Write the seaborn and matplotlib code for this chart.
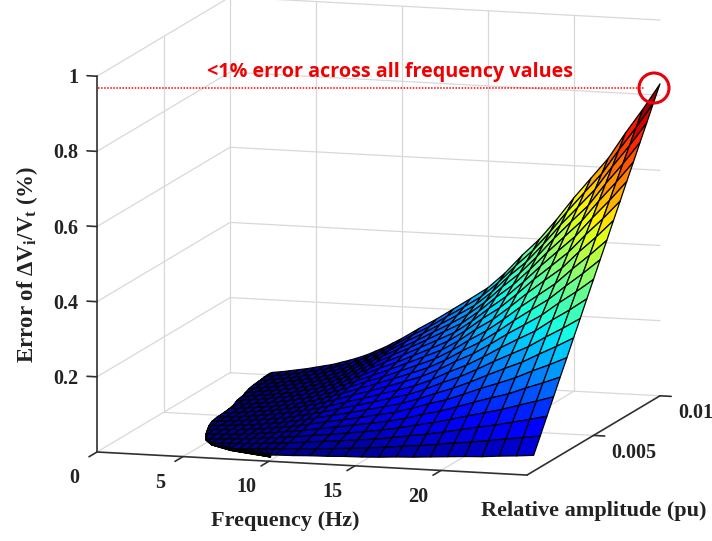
import numpy as np
import matplotlib
matplotlib.use("Agg")
import matplotlib.pyplot as plt
import seaborn as sns
from matplotlib.patches import Circle
from mpl_toolkits.mplot3d import proj3d

# values
freq = [2, 2.5, 3, 3.5, 4, 4.5, 5, 5.5, 6, 6.5, 7, 7.5, 8, 8.5, 9, 9.5, 10,
        11, 12, 13, 14, 15, 16, 17, 18, 19, 20, 21, 22, 23, 24, 25]
amp = [0.0005, 0.001, 0.0015, 0.002, 0.0025, 0.003, 0.0035, 0.004, 0.0045, 0.005,
       0.0055, 0.006, 0.0065, 0.007, 0.0075, 0.008, 0.0085, 0.009, 0.0095, 0.01]
# lowest frequency the surface reaches on each amplitude row
freq_edge = [9.7, 7.0, 5.5, 4.8, 4.4, 4.1, 3.8, 3.6, 3.5, 3.45,
             3.4, 3.3, 3.1, 3.0, 2.8, 2.65, 2.55, 2.45, 2.35, 2.3]
error = [
    [.000, .000, .001, .001, .001, .001, .001, .002, .002, .002, .003, .003, .003, .004, .005, .005, .006, .007, .009, .010, .012, .013, .015, .018, .020, .023, .026, .029, .031, .035, .038, .042],
    [.000, .001, .001, .001, .002, .002, .003, .003, .004, .004, .005, .006, .007, .008, .009, .010, .012, .015, .017, .020, .023, .026, .031, .036, .040, .046, .052, .057, .063, .070, .076, .083],
    [.001, .001, .002, .002, .003, .003, .004, .005, .006, .007, .008, .009, .010, .012, .014, .015, .017, .022, .026, .030, .035, .039, .046, .053, .060, .068, .077, .086, .094, .104, .114, .125],
    [.001, .001, .002, .003, .004, .004, .005, .006, .007, .009, .010, .012, .014, .016, .018, .021, .023, .029, .034, .040, .046, .053, .061, .071, .080, .091, .103, .114, .125, .139, .152, .166],
    [.001, .002, .003, .004, .005, .006, .007, .008, .009, .011, .013, .015, .017, .020, .023, .026, .029, .036, .043, .051, .058, .066, .076, .089, .100, .114, .129, .143, .156, .174, .190, .208],
    [.001, .002, .003, .004, .005, .007, .008, .010, .011, .013, .015, .018, .020, .024, .027, .031, .035, .044, .052, .061, .070, .079, .092, .107, .120, .137, .155, .171, .188, .209, .228, .249],
    [.001, .002, .004, .005, .006, .008, .009, .011, .013, .015, .018, .021, .024, .028, .032, .036, .041, .051, .060, .071, .081, .092, .107, .124, .140, .159, .180, .200, .219, .243, .266, .291],
    [.002, .003, .004, .006, .007, .009, .011, .013, .015, .018, .020, .024, .027, .032, .036, .041, .046, .058, .069, .081, .093, .105, .122, .142, .160, .182, .206, .228, .250, .278, .304, .332],
    [.002, .003, .005, .006, .008, .010, .012, .014, .017, .020, .023, .027, .031, .036, .041, .046, .052, .065, .077, .091, .104, .118, .137, .160, .180, .205, .232, .257, .281, .313, .342, .374],
    [.002, .004, .005, .007, .009, .011, .014, .016, .019, .022, .026, .030, .034, .040, .045, .052, .058, .073, .086, .101, .116, .132, .153, .178, .200, .228, .258, .285, .313, .348, .380, .415],
    [.002, .004, .006, .008, .010, .012, .015, .018, .020, .024, .028, .032, .037, .043, .050, .057, .064, .080, .095, .111, .128, .145, .168, .195, .220, .250, .283, .314, .344, .382, .418, .457],
    [.002, .004, .006, .008, .011, .013, .016, .019, .022, .026, .031, .035, .041, .047, .054, .062, .070, .087, .103, .121, .139, .158, .183, .213, .240, .273, .309, .342, .375, .417, .456, .498],
    [.003, .005, .007, .009, .012, .014, .018, .021, .024, .029, .033, .038, .044, .051, .059, .067, .075, .094, .112, .131, .151, .171, .198, .231, .260, .296, .335, .371, .406, .452, .494, .540],
    [.003, .005, .007, .010, .013, .015, .019, .022, .026, .031, .036, .041, .048, .055, .063, .072, .081, .102, .120, .141, .162, .184, .214, .249, .280, .319, .361, .399, .438, .487, .532, .581],
    [.003, .005, .008, .011, .014, .017, .020, .024, .028, .033, .038, .044, .051, .059, .068, .077, .087, .109, .129, .152, .174, .197, .229, .266, .300, .341, .386, .428, .469, .521, .570, .623],
    [.003, .006, .008, .011, .014, .018, .022, .026, .030, .035, .041, .047, .054, .063, .072, .082, .093, .116, .138, .162, .186, .210, .244, .284, .320, .364, .412, .456, .500, .556, .608, .664],
    [.003, .006, .009, .012, .015, .019, .023, .027, .031, .037, .043, .050, .058, .067, .077, .088, .099, .123, .146, .172, .197, .224, .259, .302, .340, .387, .438, .485, .531, .591, .646, .706],
    [.004, .006, .009, .013, .016, .020, .024, .029, .033, .040, .046, .053, .061, .071, .081, .093, .104, .131, .155, .182, .209, .237, .275, .320, .360, .410, .464, .513, .563, .626, .684, .747],
    [.004, .007, .010, .013, .017, .021, .026, .030, .035, .042, .048, .056, .065, .075, .086, .098, .110, .138, .163, .192, .220, .250, .290, .337, .380, .432, .489, .542, .594, .660, .722, .789],
    [.004, .007, .010, .014, .018, .022, .027, .032, .037, .044, .051, .059, .068, .079, .090, .103, .116, .145, .172, .202, .232, .263, .305, .355, .400, .455, .515, .570, .625, .695, .760, .830],
]

freq_ticks = [0, 5, 10, 15, 20]
amp_ticks = [0.005, 0.01]
amp_tick_labels = ["0.005", "0.01"]
err_ticks = [0.2, 0.4, 0.6, 0.8, 1]
err_tick_labels = ["0.2", "0.4", "0.6", "0.8", "1"]

sns.set_theme(style="white")
plt.rcParams["font.family"] = ["Liberation Serif", "DejaVu Serif"]
plt.rcParams["font.weight"] = "bold"
plt.rcParams["mathtext.fontset"] = "custom"
plt.rcParams["mathtext.bf"] = "Liberation Serif:bold"
plt.rcParams["mathtext.rm"] = "Liberation Serif:bold"

fig = plt.figure(figsize=(7.12, 5.41), dpi=100)
ax = fig.add_axes([100 / 712, 0, 500 / 712, 500 / 541], projection="3d")
ax.set_proj_type("ortho")
ax.view_init(elev=10.3, azim=-73.3)
ax.set_box_aspect((449, 463, 382))
ax.set_xlim(0, 25)
ax.set_ylim(0, 0.01)
ax.set_zlim(0, 1)
ax.set_axis_off()
ax.patch.set_alpha(0)
ax.computed_zorder = False


def to_pixels(f, a, z):
    x, y, _ = proj3d.proj_transform(f, a, z, ax.get_proj())
    return ax.transData.transform((x, y))


# fit the box to the picture: front corner at (97, 452), box 563 px wide
start = to_pixels(0, 0, 0)
scale = 563 / (to_pixels(25, 0.01, 0)[0] - start[0])
side = 500 * scale
left = 97 - (start[0] - 100) * scale
bottom = (541 - 452) - start[1] * scale
ax.set_position([left / 712, bottom / 541, side / 712, side / 541])

# walls and floor
grid = dict(color="#d8d8d8", lw=0.9, zorder=1)
for z in [0] + err_ticks:
    ax.plot([0, 0, 25], [0, 0.01, 0.01], [z, z, z], **grid)
for a in amp_ticks:
    ax.plot([0, 0], [a, a], [0, 1], **grid)
ax.plot([0, 25], [0.005, 0.005], [0, 0], **grid)
for f in freq_ticks[1:]:
    ax.plot([f, f], [0, 0.01], [0, 0], **grid)
    ax.plot([f, f], [0.01, 0.01], [0, 1], **grid)

# surface, clipped to its curved low frequency edge
F = np.maximum.outer(np.array(freq_edge), np.array(freq, dtype=float))
A = np.repeat(np.array(amp)[:, None], len(freq), axis=1)
Z = np.array(error)
ax.plot_surface(F, A, Z, rstride=1, cstride=1, cmap="jet",
                vmin=0, vmax=0.8, edgecolor="black", linewidth=0.9, shade=False, zorder=2)

# axis lines and ticks
axis = dict(color="#303030", lw=1.2, zorder=3)
ax.plot([0, 0], [0, 0], [0, 1], **axis)
ax.plot([0, 25], [0, 0], [0, 0], **axis)
ax.plot([25, 25], [0, 0.01], [0, 0], **axis)
for f in freq_ticks:
    ax.plot([f, f], [0, -0.0006], [0, 0], **axis)
for a in amp_ticks:
    ax.plot([25, 25.65], [a, a], [0, 0], **axis)
for z in err_ticks:
    ax.plot([-0.58, 0], [0, 0], [z, z], **axis)

# overlay in picture pixels for labels and the red note
top = fig.add_axes([0, 0, 1, 1])
top.set_xlim(0, 712)
top.set_ylim(541, 0)
top.axis("off")
top.patch.set_alpha(0)


def tick_label(f, a, z, text, ha):
    x, y = to_pixels(f, a, z)
    top.text(x, 541 - y, text, fontsize=14.5, color="#222222", ha=ha, va="center")


for f in freq_ticks:
    tick_label(f, -0.0017, -0.034, str(f), "center")
for a, t in zip(amp_ticks, amp_tick_labels):
    tick_label(26.05, a, -0.044, t, "left")
for z, t in zip(err_ticks, err_tick_labels):
    tick_label(-1.1, 0, z - 0.008, t, "right")

top.text(285, 521, "Frequency (Hz)", fontsize=16, color="#222222", ha="center", va="center")
top.text(594, 511, "Relative amplitude (pu)", fontsize=16, color="#222222", ha="center", va="center")
top.text(27, 264, r"Error of $\mathbf{\Delta V_i / V_t}$ (%)", fontsize=16.5, color="#222222",
         rotation=90, ha="center", va="center")
top.plot([98, 645], [88, 88], color="red", lw=1.1, ls=(0, (1, 1)))
top.add_patch(Circle((654, 88), 15, fill=False, edgecolor="#e8000b", lw=2.2))
top.text(390, 72, "<1% error across all frequency values", family="Open Sans", weight="bold",
         fontsize=14.2, color="#f00000", ha="center", va="center")

fig.savefig("out.png", dpi=100)
